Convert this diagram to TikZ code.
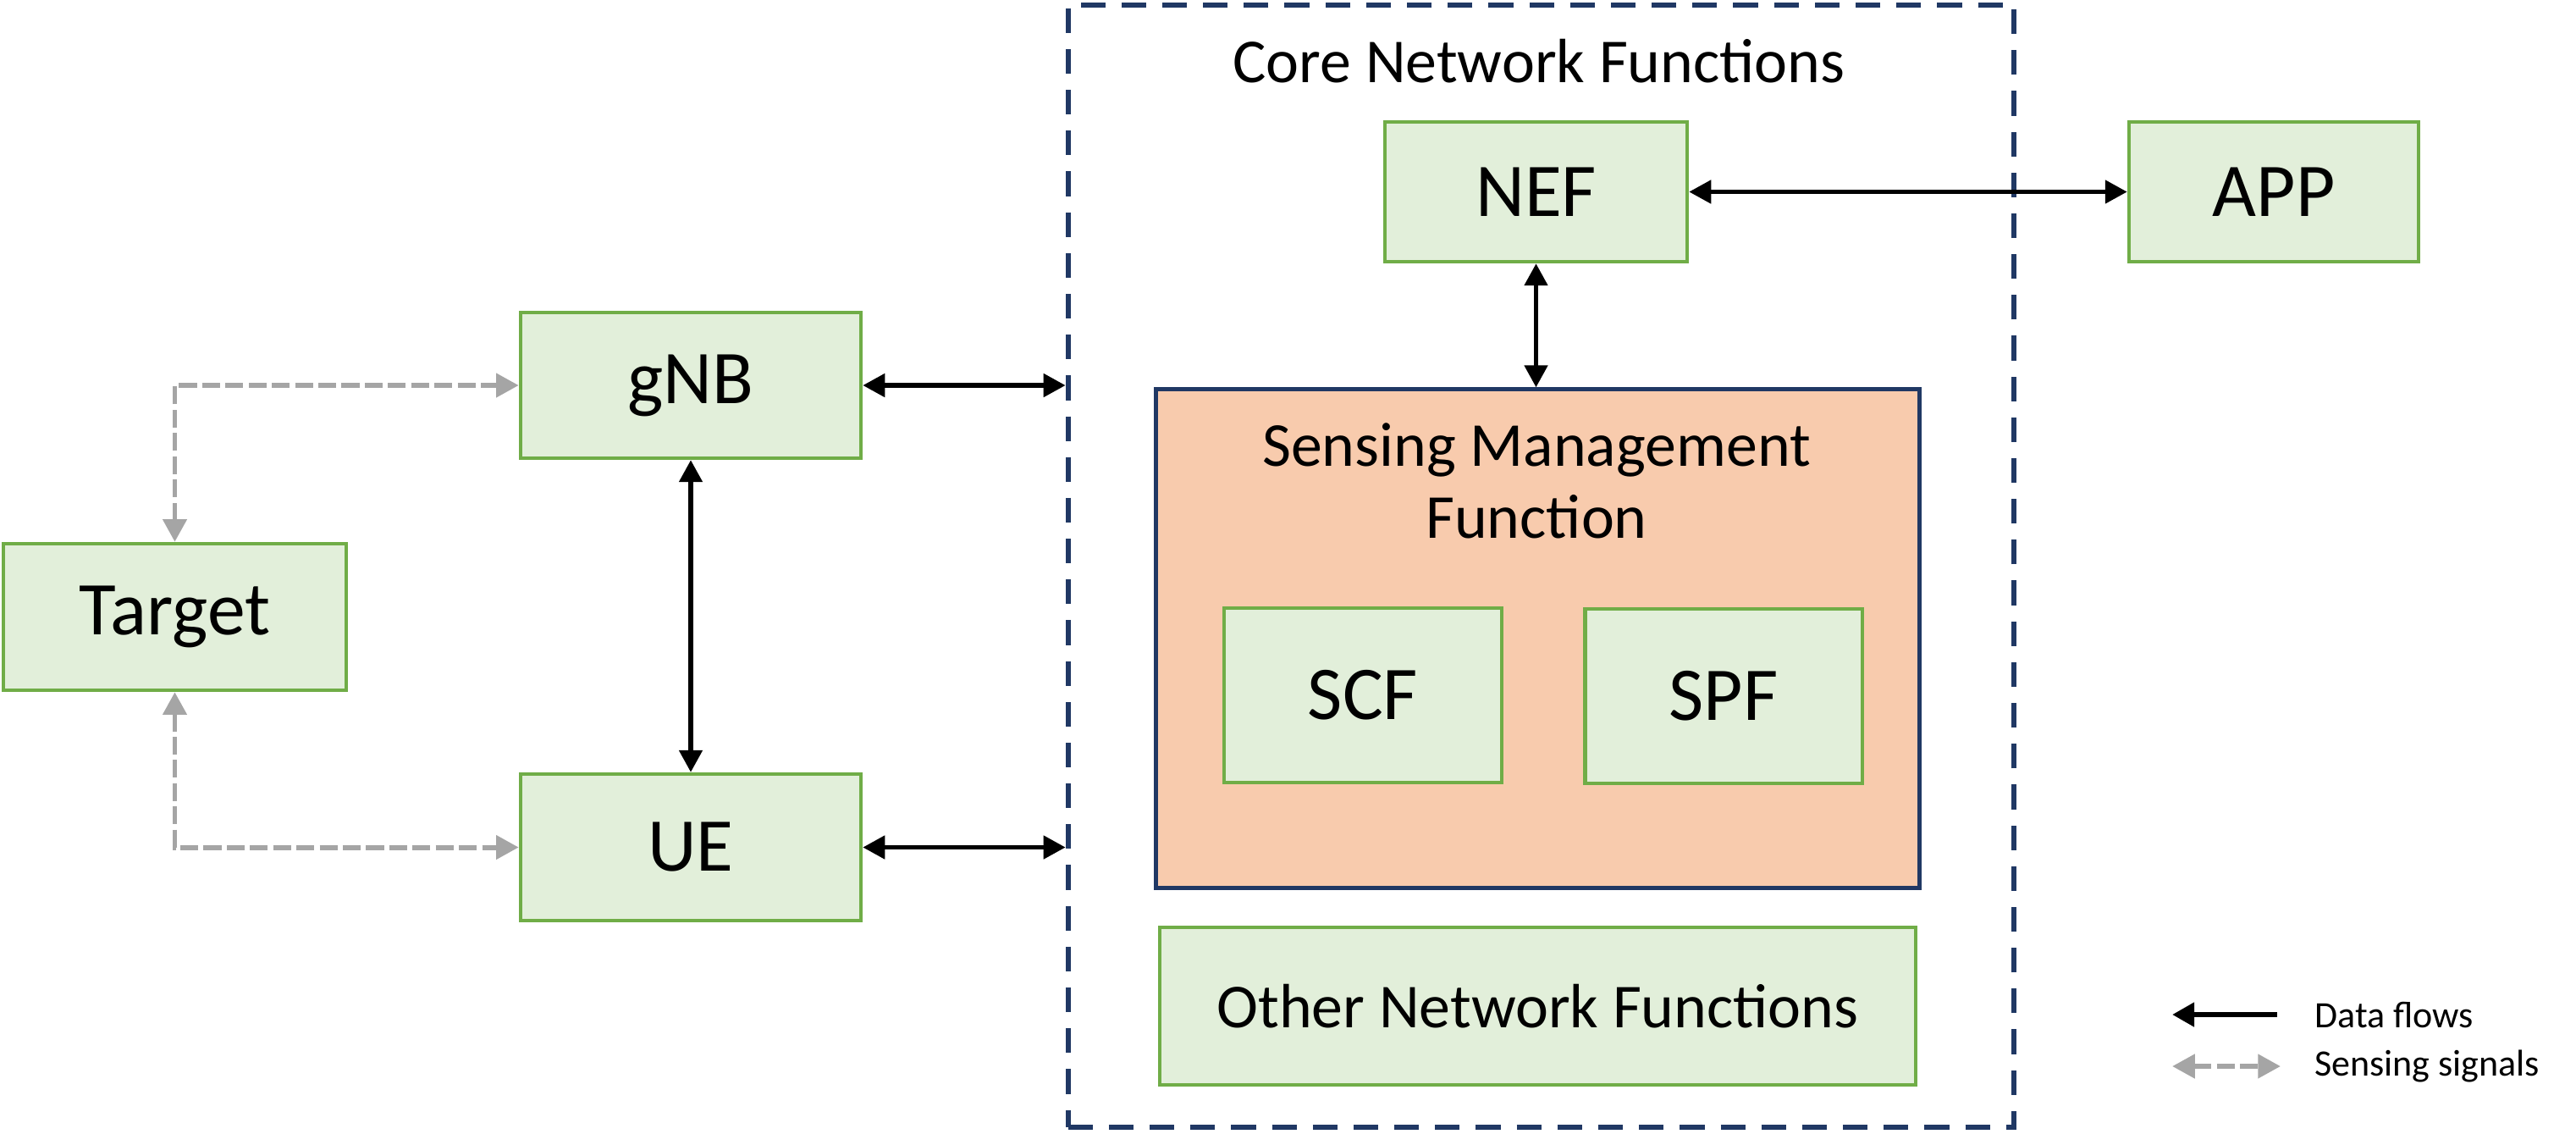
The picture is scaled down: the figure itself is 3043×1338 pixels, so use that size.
\documentclass[tikz,border=0pt]{standalone}
\usepackage{fontspec}
\setmainfont{Carlito}
\usetikzlibrary{arrows.meta}
\definecolor{gfill}{HTML}{E2EFDA}
\definecolor{gline}{HTML}{70AD47}
\definecolor{navy}{HTML}{203864}
\definecolor{smffill}{HTML}{F8CBAD}
\definecolor{sgray}{HTML}{A5A5A5}
\tikzset{
  gbox/.style={draw=gline, fill=gfill, line width=1.2pt, inner sep=0pt, align=center,
    font=\fontsize{25.5}{30}\selectfont},
  data/.style={line width=1.6pt, {Triangle[length=7.4pt,width=7.6pt]}-{Triangle[length=7.4pt,width=7.6pt]}},
  sense/.style={line width=1.7pt, sgray, dash pattern=on 6pt off 1.8pt,
    {Triangle[length=7.6pt,width=7.8pt]}-{Triangle[length=7.6pt,width=7.8pt]}},
}
\begin{document}
\begin{tikzpicture}[x=0.01cm,y=-0.01cm]
\useasboundingbox (0,0) rectangle (3043,1338);
% core dashed box
\node[draw=navy, line width=1.7pt, dash pattern=on 8.3pt off 5.4pt, minimum width=11.17cm, minimum height=13.25cm, inner sep=0pt] (core) at (1820.5,668.5) {};
\node[font=\fontsize{21}{25}\selectfont] (coretitle) at (1818,72) {Core Network Functions};
% SMF
\node[draw=navy, fill=smffill, line width=1.4pt, minimum width=9.01cm, minimum height=5.88cm, inner sep=0pt] (smf) at (1816.5,754) {};
\node[font=\fontsize{21}{24}\selectfont, align=center] (smftitle) at (1815,568) {Sensing Management\\Function};
% boxes
\node[gbox, minimum width=4.05cm, minimum height=1.73cm] (target) at (206.5,728.5) {Target};
\node[gbox, minimum width=4.02cm, minimum height=1.72cm] (gnb) at (816,455) {gNB};
\node[gbox, minimum width=4.02cm, minimum height=1.73cm] (ue) at (816,1000.5) {UE};
\node[gbox, minimum width=3.57cm, minimum height=1.65cm] (nef) at (1814.5,226.5) {NEF};
\node[gbox, minimum width=3.42cm, minimum height=1.65cm] (app) at (2686,226.5) {APP};
\node[gbox, minimum width=3.28cm, minimum height=2.06cm] (scf) at (1610,821) {SCF};
\node[gbox, minimum width=3.27cm, minimum height=2.06cm] (spf) at (2036,822) {SPF};
\node[gbox, minimum width=8.93cm, minimum height=1.86cm, font=\fontsize{21}{25}\selectfont] (other) at (1816.5,1188) {Other Network Functions};
% data flows
\draw[data] (gnb.east) -- (gnb.east -| core.west);
\draw[data] (ue.east) -- (ue.east -| core.west);
\draw[data] (gnb.south) -- (ue.north);
\draw[data] (nef.east) -- (app.west);
\draw[data] (nef.south) -- (nef.south |- smf.north);
% sensing signals
\draw[sense] (target.north) -- (target.north |- gnb.west) -- (gnb.west);
\draw[sense] (target.south) -- (target.south |- ue.west) -- (ue.west);
% legend
\coordinate (la1) at (2566,1198);
\coordinate (la2) at (2690,1198);
\coordinate (lb1) at (2566,1259);
\coordinate (lb2) at (2694,1259);
\draw[line width=1.8pt, -{Triangle[length=7.4pt,width=7.8pt]}] (la2) -- (la1);
\draw[sense] (lb1) -- (lb2);
\node[anchor=west, font=\fontsize{12.5}{15}\selectfont] (ltxt1) at (2722,1198) {Data flows};
\node[anchor=west, font=\fontsize{12.5}{15}\selectfont] (ltxt2) at (2722,1259) {Sensing signals};
\end{tikzpicture}
\end{document}
